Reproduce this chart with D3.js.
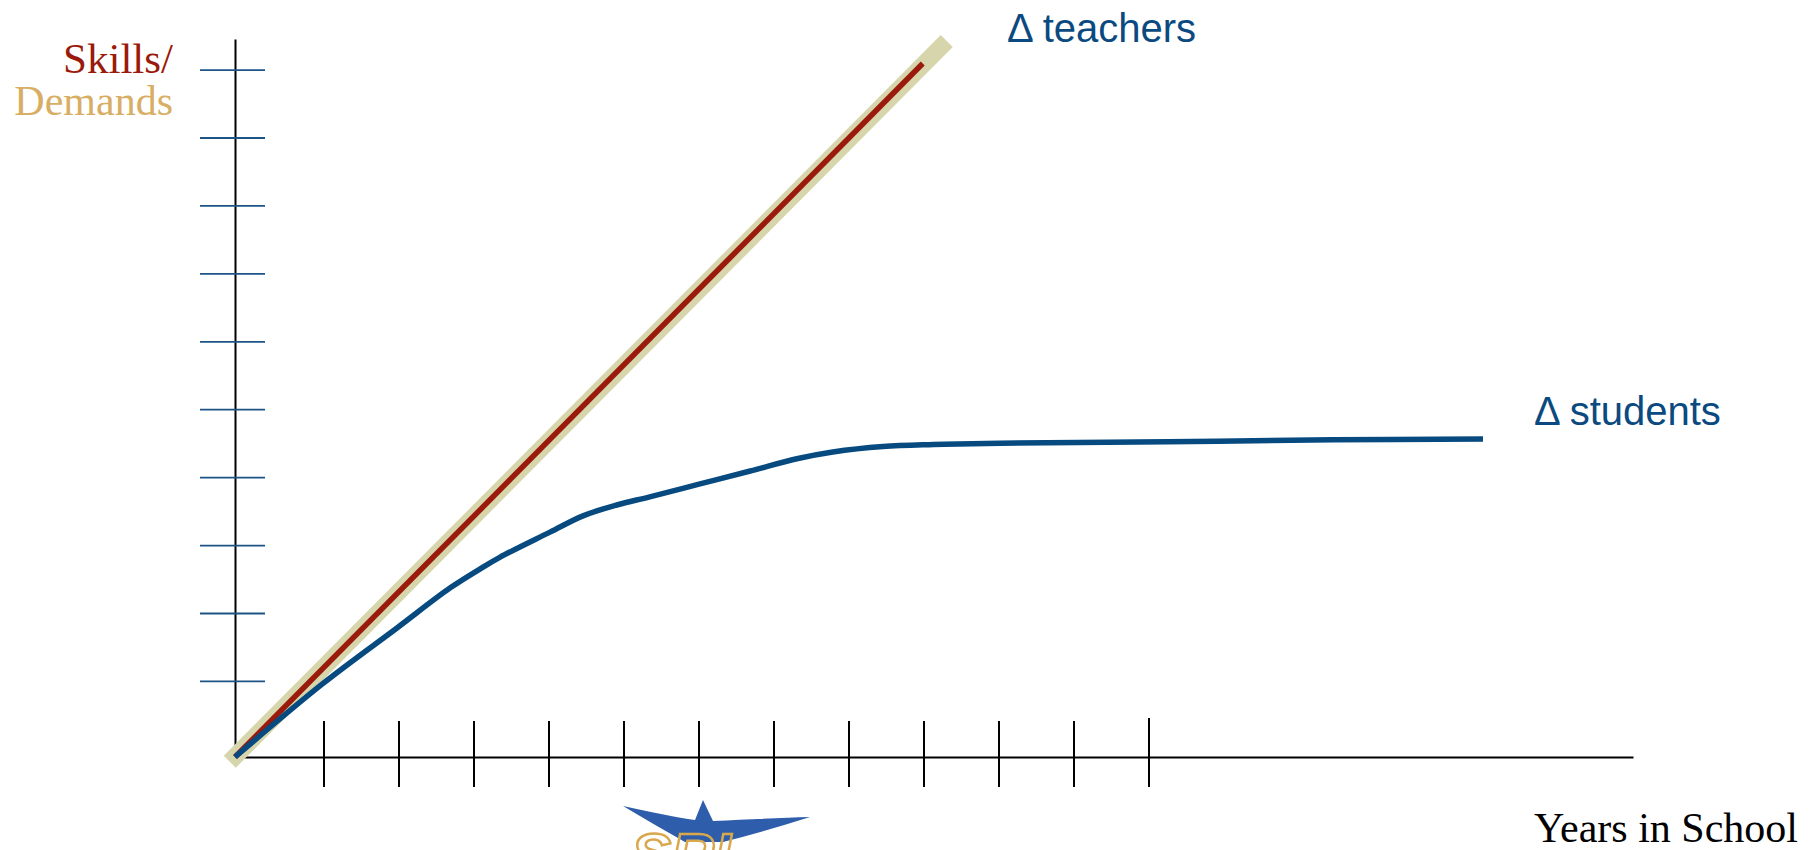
<!DOCTYPE html>
<html>
<head>
<meta charset="utf-8">
<script src="https://cdn.jsdelivr.net/npm/d3@7"></script>
<style>
  html, body { margin: 0; padding: 0; background: #fff; }
  svg { display: block; }
</style>
</head>
<body>
<div id="chart"></div>
<script>
// data, in "year" (x) and "skill level" (y) units
const xTicks = [1.18, 2.18, 3.18, 4.18, 5.18, 6.18, 7.18, 8.18, 9.18, 10.18, 11.18, 12.18];
const yTicks = [1.12, 2.12, 3.12, 4.12, 5.12, 6.12, 7.12, 8.12, 9.12, 10.12];

const demandsX = [-0.07, 9.49];
const demandsY = [-0.07, 10.54];

const teachersX = [0, 9.17];
const teachersY = [0, 10.21];

const studentsX = [0, 1.17, 2.16, 2.87, 3.27, 3.53, 4.20, 4.64, 5.09, 5.53, 6.20, 6.87, 7.49, 7.97, 8.64, 9.31, 10.2, 12.43, 14.64, 16.64];
const studentsY = [0, 1.08, 1.90, 2.49, 2.77, 2.94, 3.31, 3.55, 3.71, 3.83, 4.02, 4.21, 4.39, 4.49, 4.57, 4.60, 4.62, 4.64, 4.67, 4.68];

const W = 1819, H = 850;

const svg = d3.select("#chart")
  .append("svg")
  .attr("width", W)
  .attr("height", H);

const x = d3.scaleLinear().domain([0, 18.64]).range([235, 1633]);
const y = d3.scaleLinear().domain([0, 10.57]).range([757, 39]);

// y axis, ticks cross the line
const yAxis = svg.append("g")
  .attr("transform", `translate(${x(0)},0)`)
  .call(d3.axisLeft(y).tickValues(yTicks).tickFormat("").tickSizeOuter(0));
yAxis.select(".domain").attr("stroke", "#000").attr("stroke-width", 2);
yAxis.selectAll(".tick line")
  .attr("x1", 30).attr("x2", -35)
  .attr("stroke", "#1d5486").attr("stroke-width", 1.8);

// x axis
const xAxis = svg.append("g")
  .attr("transform", `translate(0,${y(0)})`)
  .call(d3.axisBottom(x).tickValues(xTicks).tickFormat("").tickSizeOuter(0));
xAxis.select(".domain").attr("stroke", "#000").attr("stroke-width", 2);
xAxis.selectAll(".tick line")
  .attr("y1", -36).attr("y2", 30)
  .attr("stroke", "#000").attr("stroke-width", 2);
xAxis.selectAll(".tick line").filter((d, i, n) => i === n.length - 1).attr("y1", -39);

const line = d3.line().x(d => x(d[0])).y(d => y(d[1]));

svg.append("path")
  .attr("d", line(d3.zip(demandsX, demandsY)))
  .attr("fill", "none")
  .attr("stroke", "#d6d5ab")
  .attr("stroke-width", 17);

svg.append("path")
  .attr("d", line(d3.zip(teachersX, teachersY)))
  .attr("fill", "none")
  .attr("stroke", "#9a1a0b")
  .attr("stroke-width", 5.5);

svg.append("path")
  .attr("d", line.curve(d3.curveCatmullRom.alpha(0.5))(d3.zip(studentsX, studentsY)))
  .attr("fill", "none")
  .attr("stroke", "#064a80")
  .attr("stroke-width", 5.5);

// labels
svg.append("text")
  .attr("x", 173).attr("y", 73)
  .attr("text-anchor", "end")
  .attr("font-family", "Liberation Serif, Times New Roman, serif")
  .attr("font-size", 43)
  .attr("fill", "#9a1a0b")
  .text("Skills/");

svg.append("text")
  .attr("x", 173).attr("y", 115)
  .attr("text-anchor", "end")
  .attr("font-family", "Liberation Serif, Times New Roman, serif")
  .attr("font-size", 42)
  .attr("fill", "#d8ae65")
  .text("Demands");

svg.append("text")
  .attr("x", 1007).attr("y", 42)
  .attr("font-family", "Liberation Sans, Arial, sans-serif")
  .attr("font-size", 40)
  .attr("fill", "#0b4a80")
  .text("Δ teachers");

svg.append("text")
  .attr("x", 1534).attr("y", 425)
  .attr("font-family", "Liberation Sans, Arial, sans-serif")
  .attr("font-size", 40)
  .attr("fill", "#0b4a80")
  .text("Δ students");

svg.append("text")
  .attr("x", 1798).attr("y", 842)
  .attr("text-anchor", "end")
  .attr("font-family", "Liberation Serif, Times New Roman, serif")
  .attr("font-size", 42)
  .attr("fill", "#000")
  .text("Years in School");

// logo, cut off at the bottom edge like in the slide
const logo = svg.append("g").attr("transform", "translate(623,800)");
logo.append("path")
  .attr("d", "M0,6 Q45,16 72,20 L80,0 L90,21 Q150,18 187,17 Q140,32 100,42 L62,42 Q30,24 0,6 Z")
  .attr("fill", "#2e5eab");
logo.append("text")
  .attr("x", 8).attr("y", 75)
  .attr("font-family", "Liberation Sans, Arial, sans-serif")
  .attr("font-style", "italic")
  .attr("font-weight", "bold")
  .attr("font-size", 60)
  .attr("fill", "none")
  .attr("stroke", "#d9a84e")
  .attr("stroke-width", 2.5)
  .text("SRI");
</script>
</body>
</html>
